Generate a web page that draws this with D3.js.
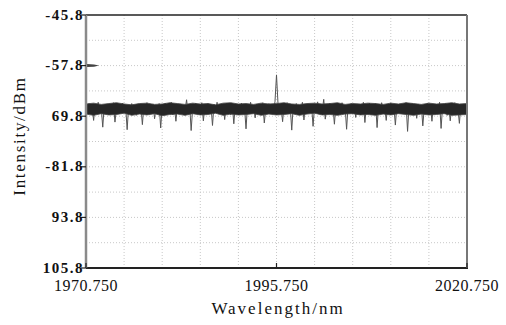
<!DOCTYPE html>
<html><head><meta charset="utf-8">
<script src="https://cdn.jsdelivr.net/npm/d3@7"></script>
<style>
html,body{margin:0;padding:0;background:#fff;}
text{font-family:"Liberation Serif","DejaVu Serif",serif;fill:#111;}
</style></head>
<body><svg id="c" width="506" height="325"></svg>
<script>
// ---- data ----
const wlStart = 1970.75, wlEnd = 2020.75;
const xTickValues = [1970.75, 1995.75, 2020.75];
const xTickLabels = ["1970.750", "1995.750", "2020.750"];
const yTickValues = [-45.8, -57.8, -69.8, -81.8, -93.8, -105.8];
const yTickLabels = ["-45.8", "-57.8", "69.8", "-81.8", "93.8", "105.8"];
const markerLevel = -57.8;
const intensity = [
-67.2,-68.9,-66.8,-69.3,-67.5,-70.8,-67.0,-68.6,-66.5,-69.0,-67.8,-72.4,-67.1,-68.7,-66.9,-69.4,-67.3,-68.2,-66.6,-71.2,-67.9,-68.8,-67.0,-69.1,-66.7,
-68.5,-67.4,-73.0,-67.2,-69.0,-66.8,-68.4,-67.6,-69.6,-66.9,-68.1,-67.3,-71.8,-67.0,-68.9,-66.6,-69.2,-67.7,-68.3,-66.9,-70.4,-67.5,-69.0,-66.8,-72.6,
-67.4,-68.6,-66.7,-69.3,-67.1,-68.0,-66.5,-69.5,-67.6,-71.0,-67.2,-68.7,-66.9,-69.1,-67.4,-68.3,-65.9,-69.4,-67.0,-73.2,-67.8,-68.6,-66.7,-69.2,-67.3,
-68.8,-66.6,-70.9,-67.5,-69.0,-66.8,-68.4,-67.2,-72.0,-67.0,-68.9,-66.5,-69.3,-67.7,-68.1,-66.9,-70.6,-67.3,-68.7,-66.8,-69.5,-67.1,-71.6,-66.9,-68.6,
-67.4,-69.2,-66.7,-68.3,-67.6,-72.8,-67.0,-68.8,-66.5,-69.0,-67.5,-70.2,-66.9,-68.6,-67.2,-69.4,-66.6,-71.4,-67.8,-68.5,-66.8,-69.1,-67.3,-68.2,-66.4,
-60.0,-66.9,-69.3,-67.5,-71.1,-67.0,-68.7,-66.6,-69.2,-67.4,-73.1,-67.1,-68.9,-66.8,-69.5,-67.6,-68.2,-66.5,-70.7,-67.3,-68.8,-66.9,-69.0,-67.2,-72.2,
-67.0,-68.6,-66.4,-69.3,-67.7,-68.4,-65.8,-70.5,-67.2,-68.9,-66.7,-69.1,-67.4,-71.7,-66.9,-68.5,-67.1,-69.4,-66.6,-68.2,-67.5,-72.9,-67.0,-68.7,-66.8,
-69.2,-67.3,-70.1,-66.9,-68.8,-67.6,-69.0,-66.5,-71.3,-67.2,-68.4,-66.7,-69.5,-67.4,-68.6,-66.8,-72.5,-67.1,-69.1,-66.6,-68.3,-67.7,-70.8,-67.0,-68.9,
-66.7,-69.3,-67.4,-71.9,-67.2,-68.5,-66.9,-69.0,-67.5,-68.2,-66.6,-73.4,-67.0,-68.8,-66.8,-69.4,-67.3,-70.3,-66.9,-68.6,-67.1,-72.1,-67.6,-69.0,-66.7,
-68.4,-67.2,-71.0,-66.9,-69.2,-67.5,-68.7,-66.5,-72.7,-67.3,-68.9,-66.8,-69.6,-67.1,-70.9,-67.4,-68.5,-66.6,-69.3,-67.8,-71.5,-67.0,-68.8,-66.9,-69.1,-67.6
];
// dense noise band envelope (1 nm steps)
const bandUpper = [
-66.9,-66.7,-67.0,-66.8,-66.6,-66.9,-67.1,-66.8,-66.7,-67.0,-66.9,-66.6,-66.8,-67.0,-66.7,-66.9,-66.8,
-67.1,-66.7,-66.6,-66.9,-66.8,-67.0,-66.7,-66.9,-66.8,-66.6,-66.9,-67.0,-66.8,-66.7,-66.9,-66.8,-66.6,
-67.0,-66.8,-66.9,-66.7,-66.8,-67.0,-66.7,-66.9,-66.6,-66.8,-67.0,-66.7,-66.9,-66.8,-66.6,-66.9,-66.8
];
const bandLower = [
-69.3,-69.6,-69.2,-69.5,-69.4,-69.1,-69.6,-69.3,-69.5,-69.2,-69.7,-69.4,-69.3,-69.6,-69.2,-69.5,-69.4,
-69.1,-69.6,-69.3,-69.5,-69.4,-69.2,-69.6,-69.3,-69.5,-69.4,-69.2,-69.6,-69.3,-69.1,-69.5,-69.4,-69.6,
-69.3,-69.2,-69.5,-69.4,-69.6,-69.3,-69.5,-69.2,-69.4,-69.6,-69.3,-69.5,-69.4,-69.2,-69.6,-69.5,-69.4
];

// ---- layout ----
const L = 86, R = 467, T = 15, B = 268;
const svg = d3.select("#c");
const x = d3.scaleLinear().domain([wlStart, wlEnd]).range([L, R]);
const y = d3.scaleLinear().domain([-45.8, -105.8]).range([T, B]);
const idx = d3.scaleLinear().domain([0, intensity.length - 1]).range([wlStart, wlEnd]);
const bidx = d3.scaleLinear().domain([0, bandUpper.length - 1]).range([wlStart, wlEnd]);

// grid
const xGrid = d3.range(11).map(i => wlStart + i * 5);
const yGrid = d3.range(11).map(i => -45.8 - i * 6);
svg.append("g").selectAll("line").data(xGrid.slice(1, -1)).join("line")
  .attr("x1", d => x(d)).attr("x2", d => x(d)).attr("y1", T).attr("y2", B)
  .attr("stroke", "#c8c8c8").attr("stroke-dasharray", "1,2");
svg.append("g").selectAll("line").data(yGrid.slice(1, -1)).join("line")
  .attr("y1", d => y(d)).attr("y2", d => y(d)).attr("x1", L).attr("x2", R)
  .attr("stroke", "#c8c8c8").attr("stroke-dasharray", "1,2");

// trace
const line = d3.line().x((d, i) => x(idx(i))).y(d => y(d));
svg.append("path").datum(intensity).attr("d", line)
  .attr("fill", "none").attr("stroke", "#555").attr("stroke-width", 1);
const area = d3.area().x((d, i) => x(bidx(i))).y0((d, i) => y(bandLower[i])).y1(d => y(d));
svg.append("path").datum(bandUpper).attr("d", area)
  .attr("fill", "#262626").attr("stroke", "#444").attr("stroke-width", 0.8);

// marker
const my = y(markerLevel);
svg.append("path")
  .attr("d", `M${L + 1},${my - 1.5} L${L + 8},${my - 1.2} L${L + 13},${my} L${L + 8},${my + 1.2} L${L + 1},${my + 1.5} Z`)
  .attr("fill", "#444");

// frame
svg.append("line").attr("x1", L).attr("x2", R).attr("y1", T).attr("y2", T).attr("stroke", "#222").attr("stroke-width", 1.5);
svg.append("line").attr("x1", L).attr("x2", R + 1).attr("y1", B).attr("y2", B).attr("stroke", "#222").attr("stroke-width", 2);
svg.append("line").attr("x1", L).attr("x2", L).attr("y1", T).attr("y2", B).attr("stroke", "#8a8a8a").attr("stroke-width", 2.5);
svg.append("line").attr("x1", R).attr("x2", R).attr("y1", T).attr("y2", B).attr("stroke", "#777").attr("stroke-width", 2);

// y ticks
svg.append("g").selectAll("line").data(yTickValues).join("line")
  .attr("x1", L - 5).attr("x2", L).attr("y1", d => y(d)).attr("y2", d => y(d))
  .attr("stroke", "#222").attr("stroke-width", 1.2);
svg.append("g").selectAll("text").data(yTickValues).join("text")
  .attr("x", L - 2).attr("y", d => y(d)).attr("dy", "0.3em")
  .attr("text-anchor", "end").attr("font-size", 15).attr("font-weight", "bold")
  .attr("letter-spacing", 1.5)
  .text((d, i) => yTickLabels[i]);

// x ticks
svg.append("g").selectAll("line").data(xTickValues).join("line")
  .attr("x1", d => x(d)).attr("x2", d => x(d)).attr("y1", B - 5).attr("y2", B)
  .attr("stroke", "#222").attr("stroke-width", 1.2);
svg.append("g").selectAll("text").data(xTickValues).join("text")
  .attr("x", d => x(d)).attr("y", 291)
  .attr("text-anchor", "middle").attr("font-size", 16).attr("letter-spacing", 0.5)
  .text((d, i) => xTickLabels[i]);

// titles
svg.append("text").attr("x", 278).attr("y", 314).attr("text-anchor", "middle")
  .attr("font-size", 17).attr("letter-spacing", 2).text("Wavelength/nm");
svg.append("text").attr("transform", "translate(25,136) rotate(-90)")
  .attr("text-anchor", "middle").attr("font-size", 17).attr("letter-spacing", 1.7).text("Intensity/dBm");
</script></body></html>
